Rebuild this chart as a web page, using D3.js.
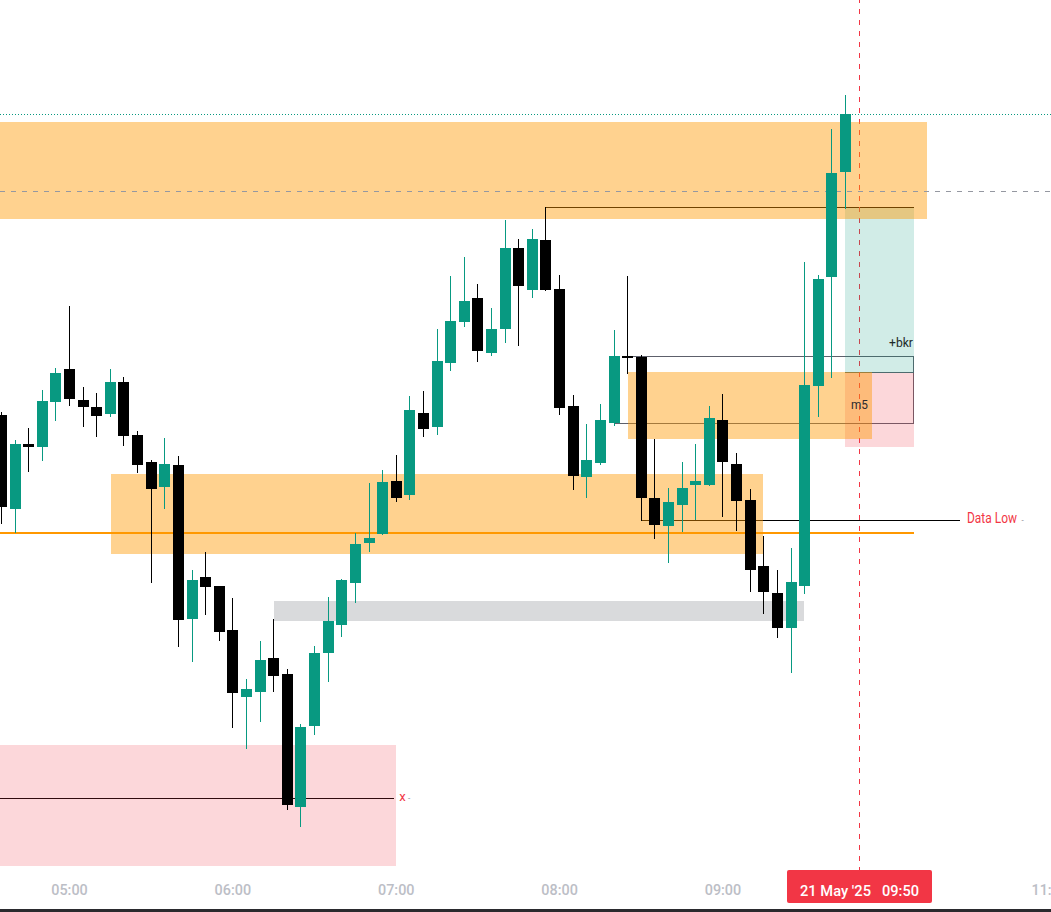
<!DOCTYPE html>
<html>
<head>
<meta charset="utf-8">
<style>
  html, body { margin: 0; padding: 0; background: #fff; overflow: hidden; }
  svg { display: block; font-family: Roboto, sans-serif; }
</style>
</head>
<body>
<script src="https://d3js.org/d3.v7.min.js"></script>
<script>
// 5 minute candles, levels (no price scale is shown)
var times = ["04:35","04:40","04:45","04:50","04:55","05:00","05:05","05:10","05:15","05:20","05:25","05:30","05:35",
  "05:40","05:45","05:50","05:55","06:00","06:05","06:10","06:15","06:20","06:25","06:30","06:35","06:40","06:45",
  "06:50","06:55","07:00","07:05","07:10","07:15","07:20","07:25","07:30","07:35","07:40","07:45","07:50","07:55",
  "08:00","08:05","08:10","08:15","08:20","08:25","08:30","08:35","08:40","08:45","08:50","08:55","09:00","09:05",
  "09:10","09:15","09:20","09:25","09:30","09:35","09:40","09:45"];
var opens = [497,403,468,465,510,543,512,505,498,530,477,450,425,447,293,335,326,282,215,220,254,238,105,186,259,287,329,
  369,378,431,417,499,485,549,590,614,559,583,664,622,672,623,506,435,449,489,556,555,414,386,407,427,427,492,448,412,
  346,319,284,326,526,635,740];
var highs = [500,472,484,522,544,606,525,519,543,535,481,452,474,456,342,360,326,314,233,271,293,243,188,266,315,333,379,
  429,442,457,516,521,583,636,655,628,604,692,673,683,705,637,517,488,508,582,636,557,473,424,450,468,506,518,459,423,
  376,342,364,650,637,783,817];
var lows = [388,379,440,451,491,506,485,475,495,466,439,329,403,265,250,297,271,184,163,190,220,102,85,177,230,275,309,
  360,377,410,412,475,477,541,585,550,556,569,566,614,621,497,422,414,447,486,538,391,373,349,380,392,426,395,381,320,
  298,274,239,318,495,534,703];
var closes = [405,468,465,511,539,513,505,496,530,476,447,423,448,292,332,325,280,219,223,252,236,107,185,259,291,332,368,
  374,430,414,502,483,551,591,611,561,583,664,626,673,622,504,436,452,492,556,554,414,387,410,424,431,494,450,411,342,
  320,284,330,527,633,739,798];

// zones: start, end, upper level, lower level
var orangeZones = [["04:00","10:15",790,693],["05:15","09:15",438,358],["08:25","09:55",540,473]];
var greyZones = [["06:15","09:30",311,291]];
var pinkZones = [["04:00","07:00",167,46]];
var rewardBox = ["09:45","10:10",704,539];
var riskBox = ["09:45","10:10",539,465];

// 10:00 sits behind the crosshair label in the picture, so it is not listed
var tickLabels = ["05:00","06:00","07:00","08:00","09:00","11:00"];
var crossTime = "09:50";
var crossLevel = 721;
var supportLevel = 379;
var blackLines = [["07:55","10:10",705],["08:30","10:27",392],["04:00","06:59",114]];
var greyLines = [["08:25","10:10",556],["08:20","10:10",489],["09:45","10:10",539]];

var width = 1051, height = 912;
var parseTime = d3.utcParse("%H:%M");
var fmtTime = d3.utcFormat("%H:%M");

var green = "#089981", red = "#f23645";

var xScale = d3.scaleUtc()
  .domain([parseTime("05:00"), parseTime("11:00")])
  .range([69.5, 1049.7]);
var yScale = d3.scaleLinear()
  .domain([0, 912])
  .range([912, 0]);

var x = function(t) { return xScale(parseTime(t)); };

var svg = d3.select("body").append("svg")
  .attr("width", width)
  .attr("height", height);

function hline(g, d, color) {
  g.append("rect")
    .attr("x", Math.round(x(d[0])))
    .attr("y", Math.floor(yScale(d[2])))
    .attr("width", Math.round(x(d[1])) - Math.round(x(d[0])))
    .attr("height", 1)
    .attr("fill", color);
}

// thin lines sit under the translucent zones
var lines = svg.append("g").attr("shape-rendering", "crispEdges");
blackLines.forEach(function(d) { hline(lines, d, "#000"); });
greyLines.forEach(function(d) { hline(lines, d, "#5d606b"); });
lines.append("rect")
  .attr("x", Math.floor(x("10:10")))
  .attr("y", Math.floor(yScale(556)))
  .attr("width", 1)
  .attr("height", Math.floor(yScale(489)) - Math.floor(yScale(556)) + 1)
  .attr("fill", "#5d606b");

svg.append("line")
  .attr("x1", Math.floor(x(crossTime)) + 0.5).attr("x2", Math.floor(x(crossTime)) + 0.5)
  .attr("y1", 0).attr("y2", 870)
  .attr("stroke", red)
  .attr("stroke-width", 1)
  .attr("stroke-dasharray", "5,6")
  .attr("stroke-dashoffset", 2);

function zone(d, fill, outer) {
  var x0 = x(d[0]), x1 = x(d[1]);
  x0 = outer ? Math.floor(x0) : Math.ceil(x0);
  x1 = outer ? Math.ceil(x1) : Math.floor(x1);
  svg.append("rect")
    .attr("x", x0)
    .attr("y", yScale(d[2]))
    .attr("width", x1 - x0)
    .attr("height", yScale(d[3]) - yScale(d[2]))
    .attr("fill", fill)
    .attr("shape-rendering", "crispEdges");
}

pinkZones.forEach(function(d) { zone(d, "rgba(242,54,69,0.2)"); });
greyZones.forEach(function(d) { zone(d, "rgba(125,128,133,0.29)"); });
zone(rewardBox, "rgba(8,153,129,0.19)", true);
zone(riskBox, "rgba(242,54,69,0.2)", true);
orangeZones.forEach(function(d) { zone(d, "rgba(255,152,0,0.44)"); });

// key level
svg.append("rect")
  .attr("x", 0)
  .attr("y", yScale(supportLevel) - 1)
  .attr("width", x("10:10"))
  .attr("height", 2)
  .attr("fill", "#ff9800")
  .attr("shape-rendering", "crispEdges");

// crosshair level and last close
svg.append("line")
  .attr("x1", 0).attr("x2", width)
  .attr("y1", yScale(crossLevel) + 0.5).attr("y2", yScale(crossLevel) + 0.5)
  .attr("stroke", "#9598a1")
  .attr("stroke-dasharray", "5,6");
svg.append("line")
  .attr("x1", 0).attr("x2", width)
  .attr("y1", yScale(closes[closes.length - 1]) + 0.5).attr("y2", yScale(closes[closes.length - 1]) + 0.5)
  .attr("stroke", green)
  .attr("stroke-dasharray", "1,2");

var candles = times.map(function(t, i) {
  return {time: t, open: opens[i], high: highs[i], low: lows[i], close: closes[i]};
});

var cg = svg.append("g")
  .attr("shape-rendering", "crispEdges")
  .selectAll("g")
  .data(candles)
  .enter()
  .append("g")
  .attr("fill", function(d) { return d.close >= d.open ? green : "#000"; });

cg.append("rect")
  .attr("x", function(d) { return Math.round(x(d.time) - 5.5) + 5; })
  .attr("y", function(d) { return yScale(d.high); })
  .attr("width", 1)
  .attr("height", function(d) { return yScale(d.low) - yScale(d.high); });

cg.append("rect")
  .attr("x", function(d) { return Math.round(x(d.time) - 5.5); })
  .attr("y", function(d) { return yScale(Math.max(d.open, d.close)); })
  .attr("width", 11)
  .attr("height", function(d) { return Math.abs(yScale(d.open) - yScale(d.close)); });

// drawing labels, squeezed a little to the narrow look of the picture
function label(txt, px, py, color, anchor, size, len) {
  var t = svg.append("text")
    .attr("x", px).attr("y", py)
    .attr("fill", color)
    .attr("font-size", size || 13)
    .attr("text-anchor", anchor || "start")
    .text(txt);
  if (len) t.attr("textLength", len).attr("lengthAdjust", "spacingAndGlyphs");
  return t;
}
label("+bkr", 913, 347, "#1e2a2a", "end", 13.5, 24);
label("m5", 859.5, 409, "#2a2a2e", "middle", 13.5, 17);
label("x", x("07:00") + 3, 801, red, "start", 13.5, 6.5);
label("-", 408, 801, "#787b86", "start", 8);
label("Data Low", 967, 523, red, "start", 14, 50);
label("-", 1021.5, 523, "#787b86", "start", 8);

// time axis
var axis = d3.axisBottom(xScale)
  .tickValues(tickLabels.map(parseTime))
  .tickFormat(fmtTime)
  .tickSize(0)
  .tickPadding(0)
  .offset(0);
var axisG = svg.append("g")
  .attr("transform", "translate(0,884)")
  .call(axis);
axisG.select(".domain").remove();
axisG.selectAll("text")
  .attr("fill", "#bcbec6")
  .attr("font-family", "Roboto, sans-serif")
  .attr("font-size", 15.5)
  .attr("font-weight", 500)
  .attr("textLength", 36.5)
  .attr("lengthAdjust", "spacingAndGlyphs");

svg.append("rect")
  .attr("x", 0).attr("y", 909)
  .attr("width", width).attr("height", 3)
  .attr("fill", "#2a2a2e");

// crosshair time label
svg.append("rect")
  .attr("x", 787).attr("y", 870)
  .attr("width", 145).attr("height", 33)
  .attr("rx", 2)
  .attr("fill", red);
svg.append("text")
  .attr("x", 800).attr("y", 896)
  .attr("fill", "#fff")
  .attr("font-size", 15.5)
  .attr("font-weight", 500)
  .attr("textLength", 71)
  .attr("lengthAdjust", "spacingAndGlyphs")
  .text("21 May '25");
svg.append("text")
  .attr("x", 882).attr("y", 896)
  .attr("fill", "#fff")
  .attr("font-size", 15.5)
  .attr("font-weight", 500)
  .attr("textLength", 37)
  .attr("lengthAdjust", "spacingAndGlyphs")
  .text(crossTime);
</script>
</body>
</html>
